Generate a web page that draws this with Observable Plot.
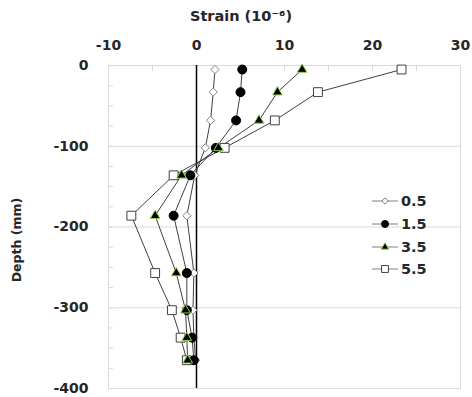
<!DOCTYPE html>
<html>
<head>
<meta charset="utf-8">
<script src="https://cdn.jsdelivr.net/npm/d3@7"></script>
<script src="https://cdn.jsdelivr.net/npm/@observablehq/plot@0.6"></script>
<style>
  html, body { margin: 0; padding: 0; background: #fff; }
  #wrap { position: relative; width: 472px; height: 397px; font-family: "DejaVu Sans", sans-serif; font-weight: bold; color: #262626; }
  .lbl { position: absolute; white-space: nowrap; font-weight: bold; }
  #xlabel { left: 241px; top: 16px; transform: translate(-50%, -50%); font-size: 14.5px; }
  #ylabel { left: 16px; top: 240px; transform: translate(-50%, -50%) rotate(-90deg); font-size: 12.5px; }
  #legend { position: absolute; left: 372px; top: 190px; }
  .li { display: flex; align-items: center; height: 22.7px; font-size: 14.5px; }
  .li svg { margin-right: 3px; }
</style>
</head>
<body>
<div id="wrap">
  <div id="chart"></div>
  <div class="lbl" id="xlabel">Strain (10⁻⁶)</div>
  <div class="lbl" id="ylabel">Depth (mm)</div>
  <div id="legend"></div>
</div>
<script>
const depth = [-5, -33, -68, -102, -136, -186, -257, -303, -337, -365];
const seriesNames = ["0.5", "1.5", "3.5", "5.5"];
const s05 = [2.1, 1.9, 1.6, 1.0, -0.2, -1.1, -0.3, -0.4, -0.3, -0.1];
const s15 = [5.2, 5.0, 4.5, 2.2, -0.7, -2.6, -1.1, -1.1, -0.5, -0.3];
const s35 = [12.0, 9.2, 7.1, 2.5, -1.7, -4.7, -2.3, -1.25, -1.1, -1.0];
const s55 = [23.3, 13.8, 8.9, 3.2, -2.6, -7.4, -4.7, -2.8, -1.8, -1.1];
const xTicks = [-10, 0, 10, 20, 30];
const yTicks = [0, -100, -200, -300, -400];
const yGrid = [-100, -200, -300];

const values = [s05, s15, s35, s55];
const rows = seriesNames.flatMap((s, i) => depth.map((d, j) => ({series: s, strain: values[i][j], depth: d})));
const bySeries = s => rows.filter(r => r.series === s);

const styles = {
  "0.5": {symbol: "diamond2", r: 3.7, fill: "#fff", stroke: "#7f7f7f", strokeWidth: 1},
  "1.5": {symbol: "circle", r: 4.5, fill: "#000", stroke: "#000", strokeWidth: 1},
  "3.5": {symbol: "triangle", r: 3.6, fill: "#000", stroke: "#92d050", strokeWidth: 1},
  "5.5": {symbol: "square", r: 5, fill: "#fff", stroke: "#404040", strokeWidth: 1}
};
const drawOrder = ["5.5", "0.5", "1.5", "3.5"];

const chart = Plot.plot({
  width: 472,
  height: 397,
  marginLeft: 108,
  marginRight: 12,
  marginTop: 65,
  marginBottom: 9,
  style: {fontFamily: "DejaVu Sans, sans-serif", fontWeight: "bold", fontSize: "14px", color: "#262626", background: "#fff"},
  x: {domain: [-10, 30]},
  y: {domain: [-400, 0]},
  marks: [
    Plot.ruleY(yGrid, {stroke: "#d9d9d9", strokeWidth: 1}),
    Plot.frame({stroke: "#d9d9d9"}),
    Plot.axisY({ticks: d3.range(-400, 1, 25), tickSize: -5, tickFormat: () => "", stroke: "#d9d9d9", label: null}),
    Plot.axisY({ticks: yTicks, tickSize: 0, tickPadding: 20, tickFormat: d => String(d), label: null}),
    Plot.axisX({anchor: "top", ticks: d3.range(-10, 31, 5), tickSize: -5, tickFormat: () => "", stroke: "#d9d9d9", label: null}),
    Plot.axisX({anchor: "top", ticks: xTicks, tickSize: 0, tickPadding: 16, tickFormat: d => String(d), label: null}),
    Plot.ruleX([0], {stroke: "#000", strokeWidth: 1.5}),
    Plot.line(rows, {x: "strain", y: "depth", z: "series", stroke: "#404040", strokeWidth: 1}),
    ...drawOrder.map(s => Plot.dot(bySeries(s), {x: "strain", y: "depth", ...styles[s]}))
  ]
});
document.getElementById("chart").appendChild(chart);

// legend
const legend = document.getElementById("legend");
const symMap = {diamond2: d3.symbolDiamond2, circle: d3.symbolCircle, triangle: d3.symbolTriangle, square: d3.symbolSquare};
for (const s of seriesNames) {
  const st = styles[s];
  const div = document.createElement("div");
  div.className = "li";
  const svg = d3.create("svg").attr("width", 26).attr("height", 12);
  svg.append("line").attr("x1", 0).attr("x2", 26).attr("y1", 6).attr("y2", 6).attr("stroke", "#7f7f7f").attr("stroke-width", 1);
  const size = Math.PI * st.r * st.r * 0.6;
  svg.append("path").attr("transform", "translate(13,6)")
    .attr("d", d3.symbol(symMap[st.symbol], size)())
    .attr("fill", st.fill).attr("stroke", st.stroke).attr("stroke-width", 1);
  div.appendChild(svg.node());
  const t = document.createElement("span");
  t.textContent = s;
  div.appendChild(t);
  legend.appendChild(div);
}
</script>
</body>
</html>
